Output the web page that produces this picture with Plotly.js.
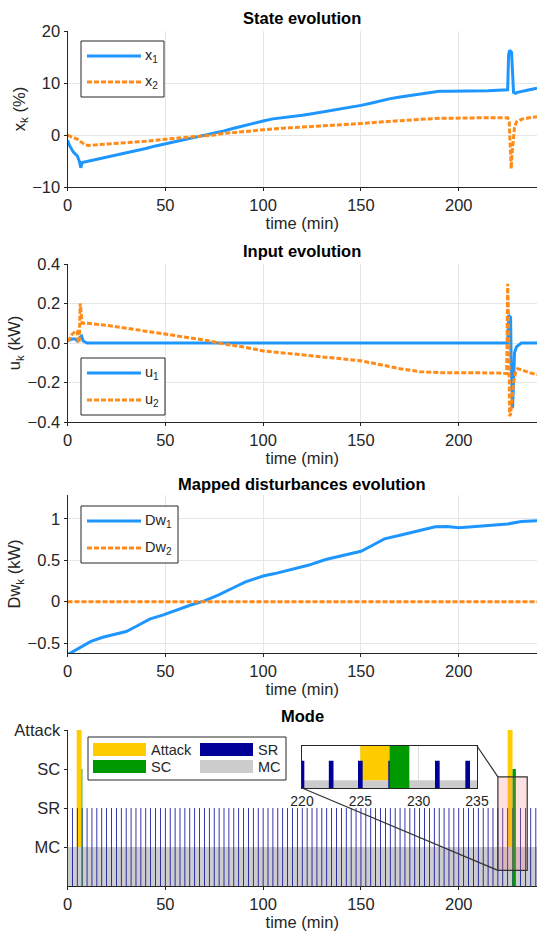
<!DOCTYPE html>
<html><head><meta charset="utf-8">
<script src="https://cdn.plot.ly/plotly-3.0.1.min.js"></script>
<style>html,body{margin:0;padding:0;background:#fff}#chart{width:537px;height:934px}</style>
</head><body><div id="chart"></div>
<script>
// ---------------- DATA ----------------
const tX1 = [0,1,3,5,6,6.8,7.5,10,15,20,25,30,35,40,45,50,55,60,65,70,75,80,85,90,95,100,105,110,115,120,125,130,135,140,145,150,155,160,165,170,175,180,185,190,195,200,205,210,215,220,225,225.5,226,227,227.5,228,229,230,235,240];
const x1  = [-1,-2,-3.3,-4,-5,-6.3,-5.3,-5.1,-4.7,-4.3,-3.9,-3.5,-3.1,-2.6,-2.1,-1.7,-1.3,-0.9,-0.5,0,0.3,0.8,1.3,1.8,2.3,2.7,3.1,3.3,3.6,3.8,4.1,4.4,4.8,5.1,5.4,5.7,6.1,6.6,7.0,7.3,7.6,7.9,8.2,8.4,8.4,8.4,8.4,8.5,8.5,8.6,8.7,15.5,16.3,15.9,12,8.2,8.0,8.2,8.6,9.0];
const tX2 = [0,1,3,5,7,9,11,15,20,30,40,50,60,70,75,80,90,100,110,120,130,140,150,160,170,180,190,200,210,220,225,225.8,226.3,226.8,227.2,227.8,228.5,229.5,232,236,240];
const x2  = [0,-0.2,-0.5,-0.8,-1.3,-1.9,-2.0,-1.9,-1.8,-1.5,-1.2,-0.8,-0.5,-0.2,0,0.3,0.7,1.0,1.3,1.5,1.8,2.0,2.2,2.5,2.8,3.0,3.2,3.3,3.3,3.3,3.3,2.5,-2,-6.5,-4,-1,1.5,2.5,3.0,3.3,3.5];

const tU1 = [0,2,4,5,6.5,7.2,8,10,50,100,150,200,225,225.5,226.5,226.8,227.5,228,228.5,229.5,232,240];
const u1  = [0.01,0.02,0.02,0.01,0.03,0.035,0.01,0,0,0,0,0,0,0.14,0.13,-0.1,-0.33,-0.2,-0.05,-0.02,0,0];
const tU2 = [0,1,2,3,4,5,5.5,6,6.5,7,7.5,10,20,30,40,50,60,70,80,90,100,110,120,130,140,150,160,170,180,190,200,210,220,224.5,225,225.5,226,226.5,227.2,228,229,230,232,236,240];
const u2  = [0.01,0.02,0.04,0.05,0.06,0.06,0.0,0.01,0.2,0.15,0.1,0.1,0.09,0.075,0.06,0.045,0.03,0.015,-0.005,-0.02,-0.04,-0.05,-0.06,-0.07,-0.08,-0.09,-0.11,-0.13,-0.145,-0.15,-0.15,-0.15,-0.152,-0.155,0.3,0.1,-0.37,-0.36,-0.3,-0.2,-0.15,-0.13,-0.135,-0.15,-0.16];

const tD  = [0,6,12,18,25,30,35,42,49,56,63,70,77,84,91,96,100,106,114,123,132,139,145,150,155,162,171,180,188,194,200,207,218,225,232,240];
const dw1 = [-0.64,-0.56,-0.48,-0.43,-0.39,-0.36,-0.30,-0.21,-0.16,-0.10,-0.04,0.01,0.08,0.16,0.24,0.28,0.31,0.34,0.385,0.44,0.51,0.55,0.58,0.61,0.67,0.76,0.81,0.86,0.905,0.91,0.895,0.905,0.925,0.94,0.97,0.98];
const tD2 = [0,240];
const dw2 = [0,0];

// Mode events (minutes)
const modeLevels = ['MC','SR','SC','Attack'];
const mcStart = [0], mcEnd = [240];
const attackStart = [4.7,225.0], attackEnd = [7.2,227.5];
const scStart = [7.2,227.5], scEnd = [7.6,229.2];
const srTimes = [0,2.5,5,7.5,10,12.5,15,17.5,20,22.5,25,27.5,30,32.5,35,37.5,40,42.5,45,47.5,50,52.5,55,57.5,60,62.5,65,67.5,70,72.5,75,77.5,80,82.5,85,87.5,90,92.5,95,97.5,100,102.5,105,107.5,110,112.5,115,117.5,120,122.5,125,127.5,130,132.5,135,137.5,140,142.5,145,147.5,150,152.5,155,157.5,160,162.5,165,167.5,170,172.5,175,177.5,180,182.5,185,187.5,190,192.5,195,197.5,200,202.5,205,207.5,210,212.5,215,217.5,220,222.5,225,227.6,231.6,234.2,236.8,239.4];
const srWidth = 0.4;
const zoomBox = {x0:220, x1:235, y0:0.4, y1:2.8};

// ---------------- STYLE / GEOMETRY ----------------
const W = 537, H = 934;
const PX = p => p / W, PY = p => 1 - p / H;
const FONT = 'Liberation Sans, Arial, Helvetica, sans-serif';
const TXT = '#262626';
const BLUE = '#1E96FF', ORANGE = '#FF8C1A';
const C_ATT = '#FFCC00', C_SC = '#009900', C_SR = '#000099', C_MC = '#CCCCCC';
const DASH = '5px,2px';
const FS = 16.5, FS_LEG = 14.5;
const xDom = [PX(67.5), 1];
const pan = [[31,187],[264,422],[495,653],[730,886]];
const inset = {x:[302,477], y:[746,788]};

function rects(s, e, y0, y1) {
  const X = [], Y = [];
  for (let i = 0; i < s.length; i++) {
    X.push(s[i], e[i], e[i], s[i], s[i], null);
    Y.push(y0, y0, y1, y1, y0, null);
  }
  return {x: X, y: Y};
}

const traces = [];
function line(x, y, color, dash, xa, ya) {
  traces.push({x, y, xaxis: xa, yaxis: ya, mode: 'lines', type: 'scatter',
    line: {color, width: 3, dash: dash || 'solid'}, hoverinfo: 'skip'});
}
line(tX1, x1, BLUE, null, 'x', 'y');
line(tX2, x2, ORANGE, DASH, 'x', 'y');
line(tU1, u1, BLUE, null, 'x2', 'y2');
line(tU2, u2, ORANGE, DASH, 'x2', 'y2');
line(tD, dw1, BLUE, null, 'x3', 'y3');
line(tD2, dw2, ORANGE, DASH, 'x3', 'y3');

function modeTraces(xa, ya) {
  const lvl = k => modeLevels.indexOf(k) + 1;
  const mc = rects(mcStart, mcEnd, 0, lvl('MC'));
  const at = rects(attackStart, attackEnd, lvl('MC'), lvl('Attack'));
  const sr = rects(srTimes.map(t => t - srWidth/2), srTimes.map(t => t + srWidth/2), 0, lvl('SR'));
  const sc = rects(scStart, scEnd, 0, lvl('SC'));
  [[mc, C_MC], [at, C_ATT], [sr, C_SR], [sc, C_SC]].forEach(([r, c]) => {
    traces.push({x: r.x, y: r.y, xaxis: xa, yaxis: ya, type: 'scatter', mode: 'none',
      fill: 'toself', fillcolor: c, hoverinfo: 'skip'});
  });
}
modeTraces('x4', 'y4');
modeTraces('x5', 'y5');

const axBase = {
  showline: true, linecolor: TXT, linewidth: 1, ticks: 'outside', ticklen: 3, tickcolor: TXT,
  tickfont: {family: FONT, size: FS, color: TXT}, zeroline: false,
  showgrid: true, gridcolor: '#E6E6E6', gridwidth: 1, fixedrange: true
};
function xa(anchor, grid) {
  return Object.assign({}, axBase, {domain: xDom, range: [0, 240], anchor,
    tickvals: [0,50,100,150,200], showgrid: grid,
    title: {text: 'time (min)', font: {family: FONT, size: FS, color: TXT}, standoff: 0}});
}
function ya(anchor, p, range, tv, title, extra) {
  return Object.assign({}, axBase, {domain: [PY(p[1]), PY(p[0])], range, anchor, tickvals: tv,
    title: {text: title, font: {family: FONT, size: FS, color: TXT}, standoff: 2}}, extra || {});
}

const layout = {
  width: W, height: H, margin: {l: 0, r: 0, t: 0, b: 0},
  paper_bgcolor: '#fff', plot_bgcolor: '#fff', showlegend: false,
  font: {family: FONT, color: TXT, size: FS},
  xaxis: xa('y', true),
  yaxis: ya('x', pan[0], [-10, 20], [-10, 0, 10, 20], 'x<sub>k</sub> (%)'),
  xaxis2: xa('y2', true),
  yaxis2: ya('x2', pan[1], [-0.4, 0.4], [-0.4, -0.2, 0, 0.2, 0.4], 'u<sub>k</sub> (kW)', {tickformat: '.1f'}),
  xaxis3: xa('y3', true),
  yaxis3: ya('x3', pan[2], [-0.62, 1.29], [-0.5, 0, 0.5, 1], 'Dw<sub>k</sub> (kW)'),
  xaxis4: Object.assign(xa('y4', false), {layer: 'below traces'}),
  yaxis4: Object.assign({}, axBase, {domain: [PY(pan[3][1]), PY(pan[3][0])], range: [0, 4], anchor: 'x4',
    tickvals: [1, 2, 3, 4], ticktext: modeLevels, showgrid: false, layer: 'below traces'}),
  xaxis5: Object.assign({}, axBase, {domain: [PX(inset.x[0]), PX(inset.x[1])], anchor: 'y5', range: [220, 235],
    tickvals: [220, 225, 230, 235], ticks: '', tickfont: {family: FONT, size: 14, color: TXT},
    showgrid: true, gridcolor: '#DCDCDC', mirror: true, layer: 'below traces'}),
  yaxis5: Object.assign({}, axBase, {domain: [PY(inset.y[1]), PY(inset.y[0])], anchor: 'x5', range: [0.6, 2.75],
    showticklabels: false, ticks: '', showgrid: false, mirror: true, layer: 'below traces'}),
  annotations: [], shapes: []
};

// panel titles
const titles = ['State evolution', 'Input evolution', 'Mapped disturbances evolution', 'Mode'];
const titleY = [18, 251, 484, 716];
titles.forEach((t, i) => layout.annotations.push({text: '<b>' + t + '</b>', xref: 'paper', yref: 'paper',
  x: PX(302), y: PY(titleY[i]), xanchor: 'center', yanchor: 'middle', showarrow: false,
  font: {family: FONT, size: FS, color: '#000'}}));

// line legends
function lineLegend(box, items) {
  layout.shapes.push({type: 'rect', xref: 'paper', yref: 'paper', x0: PX(box[0]), x1: PX(box[1]),
    y0: PY(box[3]), y1: PY(box[2]), line: {color: TXT, width: 1}, fillcolor: '#fff', layer: 'above'});
  items.forEach(it => {
    layout.shapes.push({type: 'line', xref: 'paper', yref: 'paper', x0: PX(box[0] + 6), x1: PX(box[0] + 60),
      y0: PY(it.y), y1: PY(it.y), line: {color: it.color, width: 3, dash: it.dash || 'solid'}, layer: 'above'});
    layout.annotations.push({text: it.text, xref: 'paper', yref: 'paper', x: PX(box[0] + 62), y: PY(it.y),
      xanchor: 'left', yanchor: 'middle', showarrow: false, font: {family: FONT, size: FS_LEG, color: TXT}});
  });
}
lineLegend([81, 164, 41, 97], [{y: 56, color: BLUE, text: 'x<sub>1</sub>'}, {y: 82, color: ORANGE, dash: DASH, text: 'x<sub>2</sub>'}]);
lineLegend([81, 165, 358, 415], [{y: 373, color: BLUE, text: 'u<sub>1</sub>'}, {y: 400, color: ORANGE, dash: DASH, text: 'u<sub>2</sub>'}]);
lineLegend([81, 178, 506, 563], [{y: 521, color: BLUE, text: 'Dw<sub>1</sub>'}, {y: 548, color: ORANGE, dash: DASH, text: 'Dw<sub>2</sub>'}]);

// mode legend
const mlBox = [88, 286, 737, 780];
layout.shapes.push({type: 'rect', xref: 'paper', yref: 'paper', x0: PX(mlBox[0]), x1: PX(mlBox[1]),
  y0: PY(mlBox[3]), y1: PY(mlBox[2]), line: {color: TXT, width: 1}, fillcolor: '#fff', layer: 'above'});
[[C_ATT, 'Attack', 93, 743], [C_SC, 'SC', 93, 760], [C_SR, 'SR', 200, 743], [C_MC, 'MC', 200, 760]].forEach(([c, t, x, y]) => {
  layout.shapes.push({type: 'rect', xref: 'paper', yref: 'paper', x0: PX(x), x1: PX(x + 53), y0: PY(y + 13), y1: PY(y),
    line: {width: 0}, fillcolor: c, layer: 'above'});
  layout.annotations.push({text: t, xref: 'paper', yref: 'paper', x: PX(x + 56), y: PY(y + 6.5),
    xanchor: 'left', yanchor: 'middle', showarrow: false, font: {family: FONT, size: FS_LEG, color: TXT}});
});

// zoom box and connectors
layout.shapes.push({type: 'rect', xref: 'x4', yref: 'y4', x0: zoomBox.x0, x1: zoomBox.x1, y0: zoomBox.y0, y1: zoomBox.y1,
  line: {color: '#333', width: 1.2}, fillcolor: 'rgba(255,120,120,0.22)', layer: 'above'});
const p4x = t => 67.5 + (t - 0) / 240 * (W - 67.5);
const p4y = v => pan[3][1] - v / 4 * (pan[3][1] - pan[3][0]);
layout.shapes.push({type: 'line', xref: 'paper', yref: 'paper', x0: PX(inset.x[1]), y0: PY(inset.y[0]),
  x1: PX(p4x(zoomBox.x0)), y1: PY(p4y(zoomBox.y1)), line: {color: '#333', width: 1.2}, layer: 'above'});
layout.shapes.push({type: 'line', xref: 'paper', yref: 'paper', x0: PX(inset.x[0]), y0: PY(inset.y[1]),
  x1: PX(p4x(zoomBox.x0)), y1: PY(p4y(zoomBox.y0)), line: {color: '#333', width: 1.2}, layer: 'above'});

Plotly.newPlot('chart', traces, layout, {staticPlot: true, displayModeBar: false});
</script></body></html>
